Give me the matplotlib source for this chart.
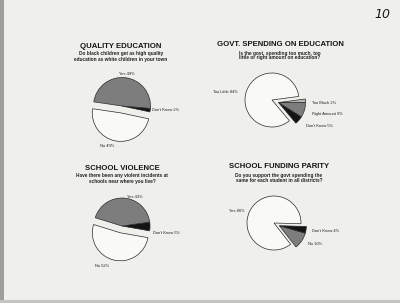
import numpy as np
import matplotlib
matplotlib.use("Agg")
import matplotlib.pyplot as plt
from matplotlib.patches import Rectangle

plt.rcParams['font.family'] = ['Liberation Sans', 'DejaVu Sans']

# ---- data ----
q_labels = ["Don't Know", "Yes", "No"]
q_values = [2, 49, 49]

g_labels = ["Don't Know", "Right Amount", "Too Much", "Too Little"]
g_values = [5, 9, 2, 84]

v_labels = ["Don't Know", "Yes", "No"]
v_values = [5, 43, 52]

p_labels = ["No", "Don't Know", "Yes"]
p_values = [10, 4, 86]

W, H = 400, 303
BG = '#efefec'
fig = plt.figure(figsize=(4, 3.03), dpi=100, facecolor=BG)
ax = fig.add_axes([0, 0, 1, 1])
ax.set_facecolor(BG)

EDGE = dict(edgecolor='#2a2a2a', linewidth=0.5)
GRAY = '#7d7d7d'
BLACK = '#141414'
WHITE = '#f9f9f7'
LGRAY = '#b8b8b8'


def Y(py):
    return H - py


def pie(values, colors, cx, cy, r, start):
    wedges, _ = ax.pie(values, colors=colors, center=(cx, Y(cy)), radius=r,
                       startangle=start, counterclock=True, wedgeprops=EDGE)
    return wedges


def shift_group(wedges, idx, dist):
    a1 = wedges[idx[0]].theta1
    a2 = wedges[idx[-1]].theta2
    mid = np.deg2rad((a1 + a2) / 2)
    for i in idx:
        c = wedges[i].center
        wedges[i].set_center((c[0] + dist * np.cos(mid), c[1] + dist * np.sin(mid)))


def title(cx, cy, t, sub):
    ax.text(cx, Y(cy), t, ha='center', va='center', fontsize=5.6,
            fontweight='bold', color='#151515')
    ax.text(cx, Y(cy + 8), sub[0], ha='center', va='center', fontsize=3.4,
            fontweight='bold', color='#222222')
    ax.text(cx, Y(cy + 13), sub[1], ha='center', va='center', fontsize=3.4,
            fontweight='bold', color='#222222')


def lab(x, y, s, ha='left'):
    ax.text(x, Y(y), s, ha=ha, va='center', fontsize=2.9, color='#222222')


# QUALITY EDUCATION
title(121, 46, "QUALITY EDUCATION",
      ["Do black children get as high quality",
       "education as white children in your town"])
qw = pie(q_values, [BLACK, GRAY, WHITE], 122, 106, 28.5, -12)
shift_group(qw, [2], 7)
lab(127, 74, f"{q_labels[1]} {q_values[1]}%", ha='center')
lab(152, 110, f"{q_labels[0]} {q_values[0]}%")
lab(107, 146, f"{q_labels[2]} {q_values[2]}%", ha='center')

# GOVT. SPENDING ON EDUCATION
title(280, 45, "GOVT. SPENDING ON EDUCATION",
      ["Is the govt. spending too much, too",
       "little or right amount on education?"])
gw = pie(g_values, [BLACK, GRAY, LGRAY, WHITE], 272, 100, 27, -50)
shift_group(gw, [0, 1, 2], 7)
lab(225, 92, f"{g_labels[3]} {g_values[3]}%", ha='center')
lab(312, 103, f"{g_labels[2]} {g_values[2]}%")
lab(312, 114, f"{g_labels[1]} {g_values[1]}%")
lab(306, 126, f"{g_labels[0]} {g_values[0]}%")

# SCHOOL VIOLENCE
title(122, 168, "SCHOOL VIOLENCE",
      ["Have there been any violent incidents at",
       "schools near where you live?"])
vw = pie(v_values, [BLACK, GRAY, WHITE], 122, 226, 28, -10)
shift_group(vw, [2], 7)
lab(135, 197, f"{v_labels[1]} {v_values[1]}%", ha='center')
lab(153, 233, f"{v_labels[0]} {v_values[0]}%")
lab(102, 266, f"{v_labels[2]} {v_values[2]}%", ha='center')

# SCHOOL FUNDING PARITY
title(279, 167, "SCHOOL FUNDING PARITY",
      ["Do you support the govt spending the",
       "same for each student in all districts?"])
pw = pie(p_values, [GRAY, BLACK, WHITE], 274, 223, 27, -52)
shift_group(pw, [0, 1], 6)
lab(237, 211, f"{p_labels[2]} {p_values[2]}%", ha='center')
lab(312, 231, f"{p_labels[1]} {p_values[1]}%")
lab(308, 244, f"{p_labels[0]} {p_values[0]}%")

# handwritten page number
ax.text(382, Y(14), "10", ha='center', va='center', fontsize=9, style='italic',
        color='#1a1a1a', family='DejaVu Sans')

# scan edges
ax.add_patch(Rectangle((0, 0), 4, H, color='#9d9d9a', lw=0, zorder=0))
ax.add_patch(Rectangle((0, 0), W, 3, color='#c4c4c0', lw=0, zorder=0))

ax.set_xlim(0, W)
ax.set_ylim(0, H)
ax.set_aspect('equal')
ax.axis('off')
fig.savefig('out.png', dpi=100, facecolor=fig.get_facecolor())
